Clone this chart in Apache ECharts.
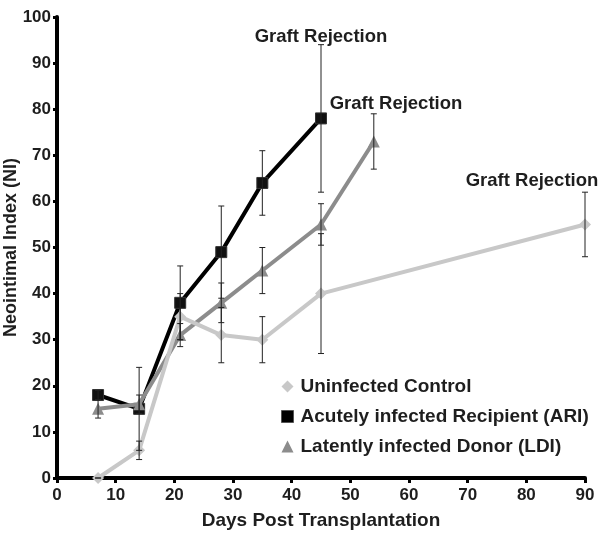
<!DOCTYPE html>
<html>
<head>
<meta charset="utf-8">
<script src="https://cdn.jsdelivr.net/npm/echarts@6/dist/echarts.min.js"></script>
<style>
html,body{margin:0;padding:0;background:#fff;}
#chart{width:600px;height:535px;}
</style>
</head>
<body>
<div id="chart"></div>
<script>
// ---- data ----
var ctrlDays = [7, 14, 21, 28, 35, 45, 90];
var ctrlVals = [0, 6, 35, 31, 30, 40, 55];
var ctrlErr  = [0, 2, 5, 6, 5, 13, 7];

var ariDays = [7, 14, 21, 28, 35, 45];
var ariVals = [18, 15, 38, 49, 64, 78];
var ariErr  = [1, 9, 8, 10, 7, 16];

var ldiDays = [7, 14, 21, 28, 35, 45, 54];
var ldiVals = [15, 16, 31, 38, 45, 55, 73];
var ldiErr  = [2, 2, 2.5, 4.3, 5, 4.5, 6];

var xTicks = [0, 10, 20, 30, 40, 50, 60, 70, 80, 90];
var yTicks = [0, 10, 20, 30, 40, 50, 60, 70, 80, 90, 100];

var names = ['Uninfected Control', 'Acutely infected Recipient (ARI)', 'Latently infected Donor (LDI)'];
var annotation = 'Graft Rejection';

var FONT = '"Liberation Sans", Arial, sans-serif';
var TXT = '#1e1e1e';

function pairs(d, v) { return d.map(function (x, i) { return [x, v[i]]; }); }
function errData(d, v, e) { return d.map(function (x, i) { return [x, v[i] - e[i], v[i] + e[i]]; }); }

function errSeries(d, v, e) {
  return {
    type: 'custom',
    z: 5,
    silent: true,
    data: errData(d, v, e),
    encode: { x: 0, y: [1, 2] },
    renderItem: function (params, api) {
      var x = api.value(0);
      var lo = api.coord([x, api.value(1)]);
      var hi = api.coord([x, api.value(2)]);
      var w = 3;
      var st = { stroke: '#222', lineWidth: 1 };
      return {
        type: 'group',
        children: [
          { type: 'line', shape: { x1: lo[0], y1: lo[1], x2: hi[0], y2: hi[1] }, style: st },
          { type: 'line', shape: { x1: lo[0] - w, y1: lo[1], x2: lo[0] + w, y2: lo[1] }, style: st },
          { type: 'line', shape: { x1: hi[0] - w, y1: hi[1], x2: hi[0] + w, y2: hi[1] }, style: st }
        ]
      };
    }
  };
}

function annLabel(off) {
  return {
    show: true,
    position: 'inside',
    offset: off,
    formatter: annotation,
    fontFamily: FONT,
    fontWeight: 'bold',
    fontSize: 18.5,
    color: TXT
  };
}

var chart = echarts.init(document.getElementById('chart'), null, { renderer: 'canvas' });

var option = {
  animation: false,
  backgroundColor: '#fff',
  grid: { left: 57, right: 15, top: 17, bottom: 57, containLabel: false, outerBoundsMode: 'none' },
  xAxis: {
    type: 'value',
    min: 0, max: 90, interval: 10,
    name: 'Days Post Transplantation',
    nameLocation: 'middle',
    nameGap: 33,
    nameTextStyle: { fontFamily: FONT, fontWeight: 'bold', fontSize: 19, color: TXT },
    axisLine: { show: true, onZero: false, lineStyle: { color: '#000', width: 4 } },
    axisTick: { show: true, length: 5, lineStyle: { color: '#000', width: 3 } },
    axisLabel: {
      fontFamily: FONT, fontWeight: 'bold', fontSize: 17, color: TXT, margin: 9,
      formatter: function (v) { return xTicks.indexOf(v) >= 0 ? String(v) : ''; }
    },
    splitLine: { show: false }
  },
  yAxis: {
    type: 'value',
    min: 0, max: 100, interval: 10,
    name: 'Neointimal Index (NI)',
    nameLocation: 'middle',
    nameGap: 37,
    nameRotate: 90,
    nameMoveOverlap: false,
    nameTextStyle: { fontFamily: FONT, fontWeight: 'bold', fontSize: 18, color: TXT },
    axisLine: { show: true, onZero: false, lineStyle: { color: '#000', width: 4 } },
    axisTick: { show: true, length: 4, lineStyle: { color: '#000', width: 3 } },
    axisLabel: {
      fontFamily: FONT, fontWeight: 'bold', fontSize: 17, color: TXT, margin: 6,
      formatter: function (v) { return yTicks.indexOf(v) >= 0 ? String(v) : ''; }
    },
    splitLine: { show: false }
  },
  legend: {
    orient: 'vertical',
    left: 276,
    top: 372,
    itemWidth: 12,
    itemHeight: 12,
    itemGap: 11,
    textStyle: { fontFamily: FONT, fontWeight: 'bold', fontSize: 19, color: TXT, padding: [0, 0, 0, 2] },
    data: [
      { name: names[0], icon: 'diamond', itemStyle: { color: '#c8c8c8' } },
      { name: names[1], icon: 'rect', itemStyle: { color: '#000', borderColor: '#555', borderWidth: 1 } },
      { name: names[2], icon: 'triangle', itemStyle: { color: '#8c8c8c' } }
    ]
  },
  series: [
    {
      name: names[1],
      type: 'line',
      z: 2,
      data: pairs(ariDays, ariVals),
      symbol: 'rect',
      symbolSize: 11,
      lineStyle: { color: '#000', width: 4 },
      itemStyle: { color: '#111', borderColor: '#333', borderWidth: 1 },
      markPoint: {
        symbolSize: 0,
        data: [
          { coord: [45, 94], label: annLabel([0, -8]) },
          { coord: [45, 78], label: annLabel([75, -15]) }
        ]
      }
    },
    {
      name: names[2],
      type: 'line',
      z: 3,
      data: pairs(ldiDays, ldiVals),
      symbol: 'triangle',
      symbolSize: 12,
      lineStyle: { color: '#8c8c8c', width: 4 },
      itemStyle: { color: '#8c8c8c' }
    },
    {
      name: names[0],
      type: 'line',
      z: 4,
      data: pairs(ctrlDays, ctrlVals),
      symbol: 'diamond',
      symbolSize: 12,
      lineStyle: { color: '#c8c8c8', width: 4 },
      itemStyle: { color: '#c8c8c8' },
      markPoint: {
        symbolSize: 0,
        data: [
          { coord: [90, 62], label: annLabel([-53, -11]) }
        ]
      }
    },
    errSeries(ariDays, ariVals, ariErr),
    errSeries(ldiDays, ldiVals, ldiErr),
    errSeries(ctrlDays, ctrlVals, ctrlErr)
  ]
};
chart.setOption(option);
</script>
</body>
</html>
